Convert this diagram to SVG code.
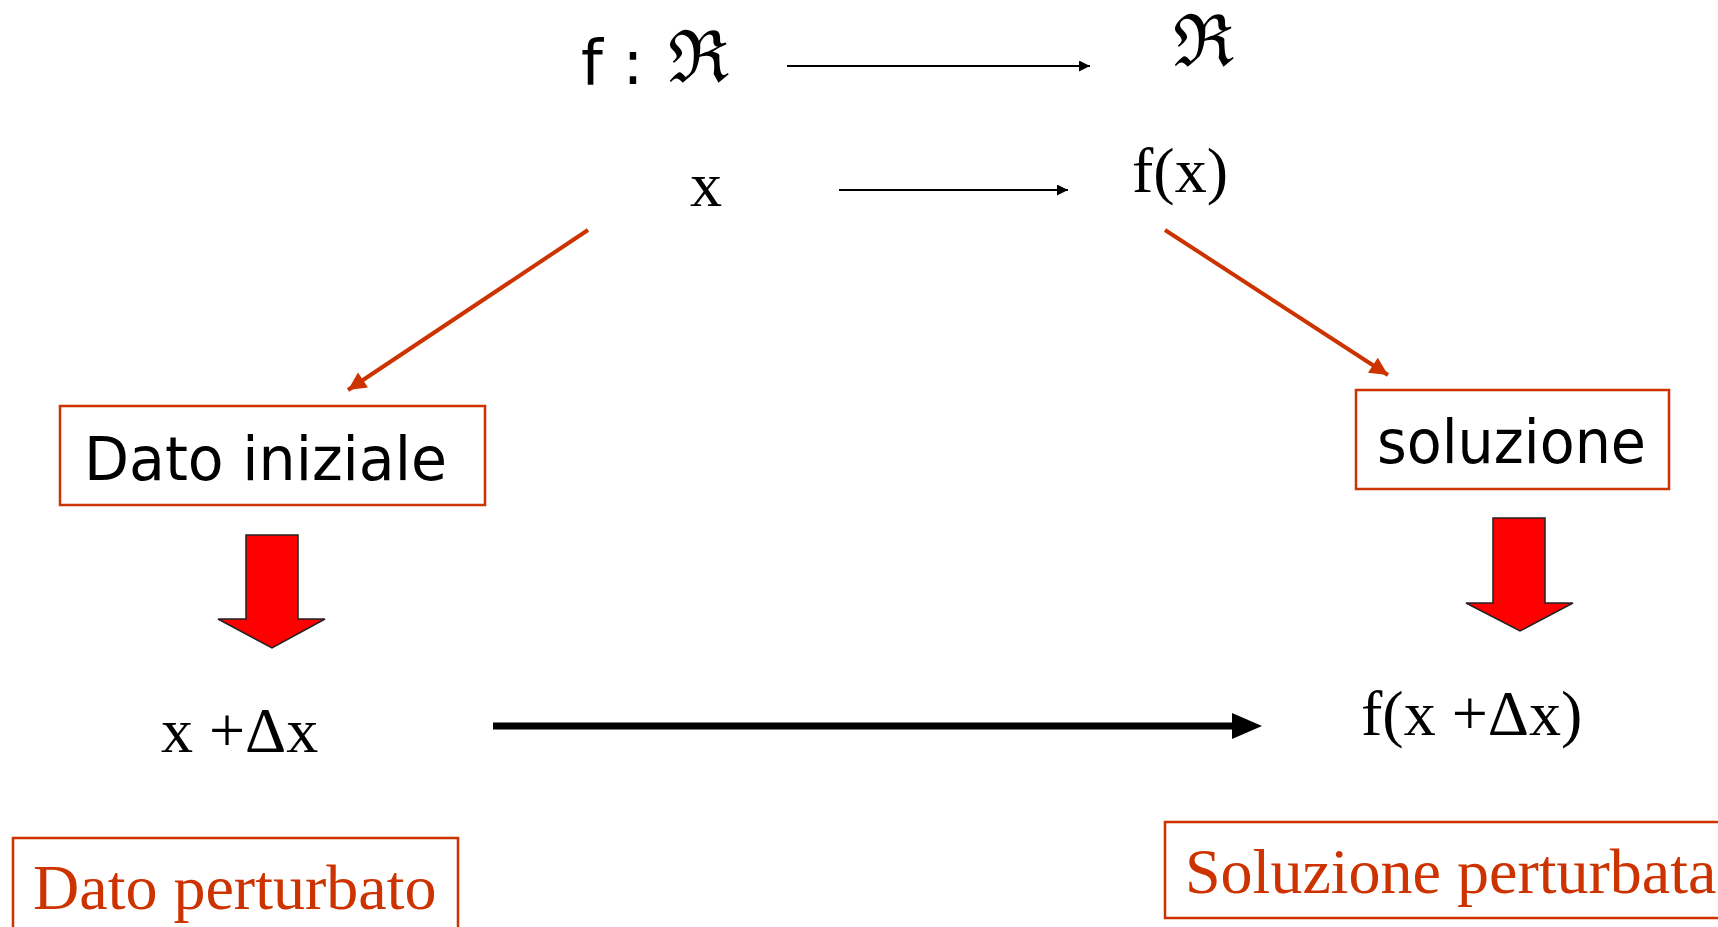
<svg xmlns="http://www.w3.org/2000/svg" width="1718" height="927" viewBox="0 0 1718 927">
<style>
.serif{font-family:"Liberation Serif","Times New Roman",serif;font-size:64px;fill:#000}
.comic{font-family:"DejaVu Sans","Noto Sans",sans-serif;fill:#000}
.frak{font-family:"DejaVu Serif",serif;font-size:72px;fill:#000}
.red{fill:#CC3300}
.box{fill:#fff;stroke:#CC3300;stroke-width:2.5}
.blk{fill:#FF0000;stroke:#222;stroke-width:1.5}
</style>
<defs>
<marker id="ab" viewBox="0 0 10 10" refX="10" refY="5" markerWidth="14" markerHeight="11" markerUnits="userSpaceOnUse" orient="auto"><path d="M0,0 L10,5 L0,10 z" fill="#000"/></marker>
<marker id="ar" viewBox="0 0 10 10" refX="10" refY="5" markerWidth="22" markerHeight="18" markerUnits="userSpaceOnUse" orient="auto"><path d="M0,0 L10,5 L0,10 z" fill="#CC3300"/></marker>
</defs>
<g id="connectors">
<line x1="787" y1="66" x2="1090" y2="66" stroke="#000" stroke-width="2" marker-end="url(#ab)"/>
<line x1="839" y1="190" x2="1068" y2="190" stroke="#000" stroke-width="2" marker-end="url(#ab)"/>
<line x1="588" y1="230" x2="348" y2="390" stroke="#CC3300" stroke-width="4" marker-end="url(#ar)"/>
<line x1="1165" y1="230" x2="1388" y2="375" stroke="#CC3300" stroke-width="4" marker-end="url(#ar)"/>
<line x1="493" y1="726" x2="1240" y2="726" stroke="#000" stroke-width="7"/>
<path d="M1232,713 L1262,726 L1232,739 z" fill="#000"/>
<path class="blk" d="M246,535 H298 V619 H325 L272,648 L218,619 H246 z"/>
<path class="blk" d="M1493,518 H1545 V603 H1573 L1520,631 L1466,603 H1493 z"/>
</g>
<g id="n-fR">
<text class="comic" x="581" y="84" font-size="62">f :</text>
<text class="frak" x="668" y="82">ℜ</text>
</g>
<g id="n-R">
<text class="frak" x="1173" y="66">ℜ</text>
</g>
<g id="n-x">
<text class="serif" x="690" y="206">x</text>
</g>
<g id="n-fx">
<text class="serif" x="1132" y="192">f(x)</text>
</g>
<g id="n-dato">
<rect class="box" x="60" y="406" width="425" height="99"/>
<text class="comic" x="84" y="480" font-size="60" textLength="363" lengthAdjust="spacingAndGlyphs">Dato iniziale</text>
</g>
<g id="n-sol">
<rect class="box" x="1356" y="390" width="313" height="99"/>
<text class="comic" x="1377" y="463" font-size="60" textLength="269" lengthAdjust="spacingAndGlyphs">soluzione</text>
</g>
<g id="n-xdx">
<text class="serif" x="161" y="752">x +Δx</text>
</g>
<g id="n-fxdx">
<text class="serif" x="1361" y="735">f(x +Δx)</text>
</g>
<g id="n-datop">
<rect class="box" x="13" y="838" width="445" height="100"/>
<text class="serif red" x="33" y="909">Dato perturbato</text>
</g>
<g id="n-solp">
<rect class="box" x="1165" y="822" width="560" height="96"/>
<text class="serif red" x="1185" y="893">Soluzione perturbata</text>
</g>
</svg>
